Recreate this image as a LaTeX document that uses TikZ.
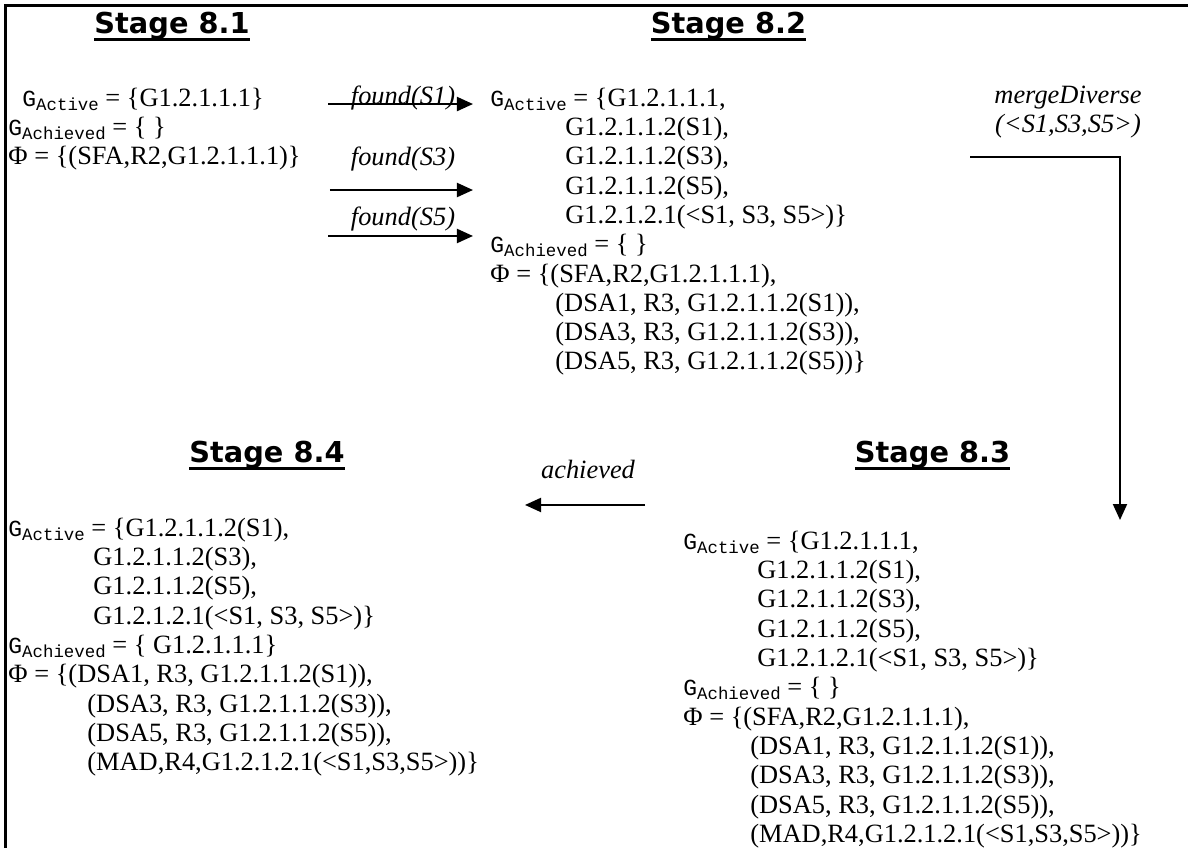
\documentclass[tikz,border=0pt]{standalone}
\usepackage{fontspec}
\setmainfont{Liberation Serif}
\newfontfamily\headfont{DejaVu Sans}
\newfontfamily\gfont{Liberation Mono}
\usetikzlibrary{arrows.meta}

% goal set name: courier G with a small courier index
\newcommand{\Gsub}[1]{{\gfont\fontsize{11.5}{11.5}\selectfont G}\raisebox{-2pt}{\gfont\fontsize{8.7}{8.7}\selectfont #1}}
% underlined stage heading
\newcommand{\stagehead}[1]{\setbox0=\hbox{#1}\rlap{\rule[-3.8pt]{\wd0}{1.3pt}}\box0}

\begin{document}
\begin{tikzpicture}[
    font=\fontsize{13.2}{14.65}\selectfont,
    blk/.style={anchor=north west, align=left, inner sep=0pt},
    head/.style={anchor=base, inner sep=0pt, font=\headfont\bfseries\fontsize{14.4}{16}\selectfont},
    lbl/.style={inner sep=0pt, font=\itshape\fontsize{13.2}{14.65}\selectfont},
    arr/.style={-{Triangle[length=8pt,width=7pt]}, line width=1pt},
    frame/.style={line width=1.5pt}
  ]
    \useasboundingbox (0,0) rectangle (20.877,-14.902);
    \draw[frame] (0.088,-14.902) -- (0.088,-0.088) -- (20.877,-0.088);

    \node[head] (t81) at (3.023,-0.580) {\stagehead{Stage 8.1}};
    \node[head] (t82) at (12.802,-0.580) {\stagehead{Stage 8.2}};
    \node[head] (t84) at (4.692,-8.119) {\stagehead{Stage 8.4}};
    \node[head] (t83) at (16.387,-8.119) {\stagehead{Stage 8.3}};

    \node[blk] (s81) at (0.141,-1.539)
      {\hspace*{7pt}\Gsub{Active} = \{G1.2.1.1.1\}\\
       \Gsub{Achieved} = \{ \}\\
       Φ = \{(SFA,R2,G1.2.1.1.1)\}};

    \node[blk] (s82) at (8.611,-1.539)
      {\Gsub{Active} = \{G1.2.1.1.1,\\
       \hspace*{37.5pt}G1.2.1.1.2(S1),\\
       \hspace*{37.5pt}G1.2.1.1.2(S3),\\
       \hspace*{37.5pt}G1.2.1.1.2(S5),\\
       \hspace*{37.5pt}G1.2.1.2.1(<S1, S3, S5>)\}\\
       \Gsub{Achieved} = \{ \}\\
       Φ = \{(SFA,R2,G1.2.1.1.1),\\
       \hspace*{32.5pt}(DSA1, R3, G1.2.1.1.2(S1)),\\
       \hspace*{32.5pt}(DSA3, R3, G1.2.1.1.2(S3)),\\
       \hspace*{32.5pt}(DSA5, R3, G1.2.1.1.2(S5))\}};

    \node[blk] (s83) at (12.002,-9.325)
      {\Gsub{Active} = \{G1.2.1.1.1,\\
       \hspace*{37pt}G1.2.1.1.2(S1),\\
       \hspace*{37pt}G1.2.1.1.2(S3),\\
       \hspace*{37pt}G1.2.1.1.2(S5),\\
       \hspace*{37pt}G1.2.1.2.1(<S1, S3, S5>)\}\\
       \Gsub{Achieved} = \{ \}\\
       Φ = \{(SFA,R2,G1.2.1.1.1),\\
       \hspace*{33.5pt}(DSA1, R3, G1.2.1.1.2(S1)),\\
       \hspace*{33.5pt}(DSA3, R3, G1.2.1.1.2(S3)),\\
       \hspace*{33.5pt}(DSA5, R3, G1.2.1.1.2(S5)),\\
       \hspace*{33.5pt}(MAD,R4,G1.2.1.2.1(<S1,S3,S5>))\}};

    \node[blk] (s84) at (0.141,-9.096)
      {\Gsub{Active} = \{G1.2.1.1.2(S1),\\
       \hspace*{42.5pt}G1.2.1.1.2(S3),\\
       \hspace*{42.5pt}G1.2.1.1.2(S5),\\
       \hspace*{42.5pt}G1.2.1.2.1(<S1, S3, S5>)\}\\
       \Gsub{Achieved} = \{ G1.2.1.1.1\}\\
       Φ = \{(DSA1, R3, G1.2.1.1.2(S1)),\\
       \hspace*{39.5pt}(DSA3, R3, G1.2.1.1.2(S3)),\\
       \hspace*{39.5pt}(DSA5, R3, G1.2.1.1.2(S5)),\\
       \hspace*{39.5pt}(MAD,R4,G1.2.1.2.1(<S1,S3,S5>))\}};

    % found steps 8.1 -> 8.2
    \node[lbl, anchor=base] (fs1) at (7.082,-1.828) {found(S1)};
    \node[lbl, anchor=base] (fs3) at (7.082,-2.910) {found(S3)};
    \node[lbl, anchor=base] (fs5) at (7.082,-3.964) {found(S5)};
    \coordinate (a1s) at (5.764,-1.828);
    \coordinate (a1e) at (8.312,-1.828);
    \coordinate (a3s) at (5.799,-3.339);
    \coordinate (a3e) at (8.312,-3.339);
    \coordinate (a5s) at (5.764,-4.147);
    \coordinate (a5e) at (8.312,-4.147);
    \draw[arr] (a1s) -- (a1e);
    \draw[arr] (a3s) -- (a3e);
    \draw[arr] (a5s) -- (a5e);

    % merge 8.2 -> 8.3
    \node[lbl, anchor=north, align=center] (mlbl) at (18.768,-1.504)
      {mergeDiverse\\(<S1,S3,S5>)};
    \coordinate (m0) at (17.046,-2.759);
    \coordinate (m1) at (19.682,-9.138);
    \draw[arr] (m0) -| (m1);

    % achieved 8.3 -> 8.4
    \node[lbl, anchor=base] (albl) at (10.333,-8.417) {achieved};
    \coordinate (b0) at (11.335,-8.874);
    \coordinate (b1) at (9.226,-8.874);
    \draw[arr] (b0) -- (b1);
  \end{tikzpicture}
\end{document}
